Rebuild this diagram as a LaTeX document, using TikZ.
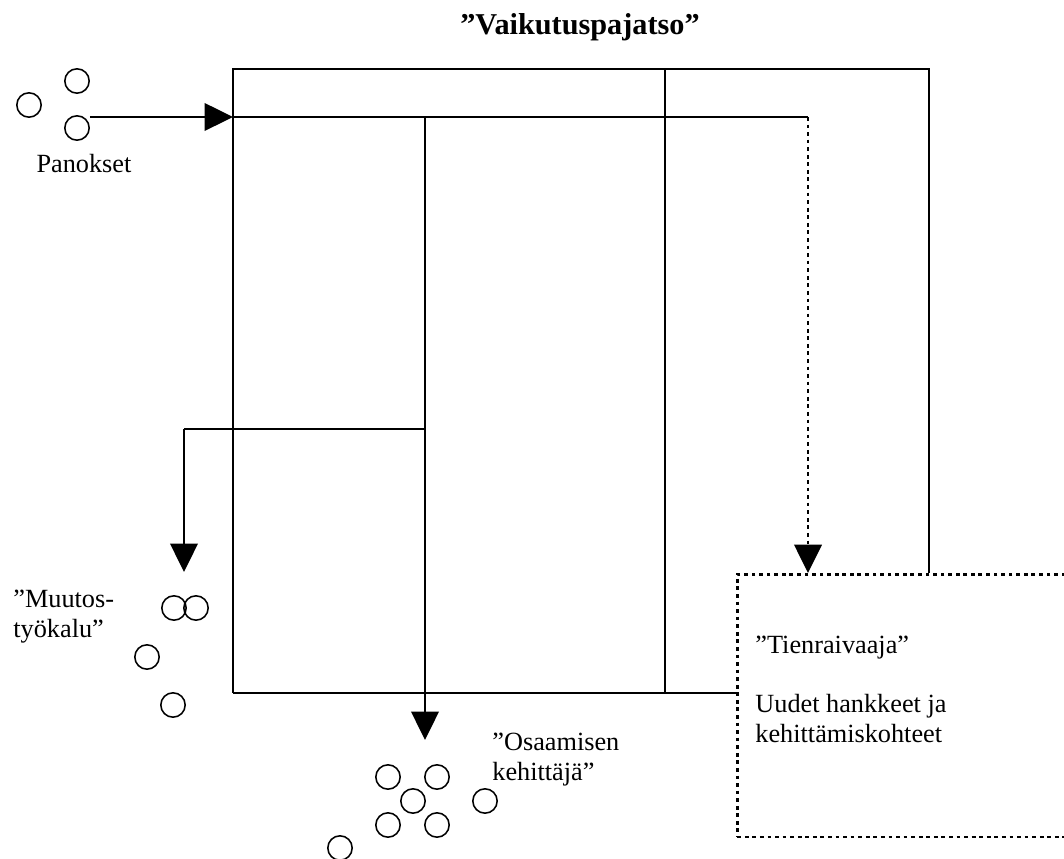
\documentclass[tikz,border=0pt]{standalone}
\usepackage{fontspec}
\setmainfont{Liberation Serif}
\usetikzlibrary{arrows.meta}

\begin{document}
\begin{tikzpicture}[x=0.476pt,y=-0.476pt,
    font=\fontsize{12.5}{14}\selectfont,
    ring/.style={draw,circle,line width=0.75pt,minimum size=11.6pt,inner sep=0pt},
    frame/.style={line width=1pt},
    flow/.style={line width=1.3pt,-{Triangle[length=13.5pt,width=13pt]}},
    dots/.style={line width=1.2pt,dash pattern=on 1.8pt off 1.8pt},
    label/.style={align=left,inner sep=0pt,anchor=north west}]
    \useasboundingbox (0,0) rectangle (1064,859);
    % title
    \node (title) [anchor=base,font=\fontsize{14.4}{16}\selectfont\bfseries] at (580,35) {”Vaikutuspajatso”};
    % frame of the pajatso
    \coordinate (tl) at (233,69);
    \coordinate (tr) at (929,69);
    \coordinate (bl) at (233,693);
    \coordinate (mid) at (665,69);
    \coordinate (in) at (233,117);
    \coordinate (turn) at (808,117);
    \coordinate (drop) at (425,117);
    \coordinate (fork) at (425,429);
    \coordinate (side) at (184,429);
    \node (tienbox) [draw,dots,anchor=north west,minimum width=165pt,minimum height=125pt,inner sep=0pt] at (736,573) {};
    \draw [frame] (bl) -- (tl) -- (tr) -- (tr |- tienbox.north);
    \draw [frame] (bl) -- (bl -| tienbox.west);
    \draw [frame] (mid) -- (mid |- bl);
    % inputs
    \node (p1) [ring] at (77,81) {};
    \node (p2) [ring] at (29,105) {};
    \node (p3) [ring] at (77,128) {};
    \node (panokset) [anchor=base] at (84,173) {Panokset};
    \draw [flow] (p3.east |- in) -- (in);
    % flows through the pajatso
    \draw [line width=1.3pt] (in) -- (turn);
    \draw [dots,line width=1.4pt,-{Triangle[length=13.5pt,width=13pt]}] (turn) -- (turn |- tienbox.north);
    \draw [flow] (drop) -- (425,740);
    \draw [frame] (fork) -- (side);
    \draw [flow] (side) -- (184,572);
    % outputs
    \node (m1) [ring] at (174,608) {};
    \node (m2) [ring] at (196,608) {};
    \node (m3) [ring] at (147,657) {};
    \node (m4) [ring] at (173,705) {};
    \node (muutos) [label] at (13,590) {”Muutos-\\työkalu”};
    \node (o1) [ring] at (388,777) {};
    \node (o2) [ring] at (437,777) {};
    \node (o3) [ring] at (413,801) {};
    \node (o4) [ring] at (485,801) {};
    \node (o5) [ring] at (388,825) {};
    \node (o6) [ring] at (437,825) {};
    \node (o7) [ring] at (340,848) {};
    \node (osaaja) [label] at (492,733) {”Osaamisen\\kehittäjä”};
    \node (tientext) [label] at (755,636) {”Tienraivaaja”\\[14pt]Uudet hankkeet ja\\kehittämiskohteet};
\end{tikzpicture}
\end{document}
